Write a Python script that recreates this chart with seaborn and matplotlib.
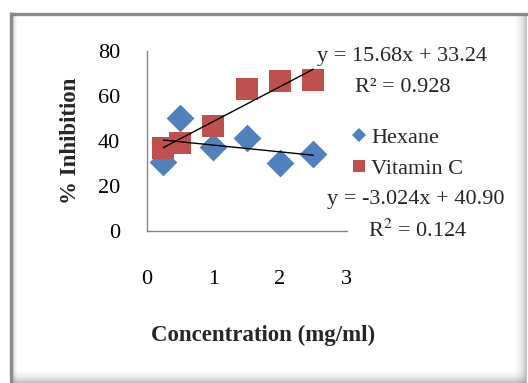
import numpy as np
import pandas as pd
import matplotlib
matplotlib.use("Agg")
import matplotlib.pyplot as plt
import seaborn as sns
from matplotlib.lines import Line2D

# data
conc = [0.25, 0.5, 1.0, 1.5, 2.0, 2.5]
hexane = [30.7, 50.0, 37.0, 41.3, 30.0, 34.0]
vitamin_c = [36.6, 38.8, 46.5, 62.8, 66.7, 67.0]
series_names = ["Hexane", "Vitamin C"]
x_ticks = [0, 1, 2, 3]
y_ticks = [0, 20, 40, 60, 80]
eq_vitc = ["y = 15.68x + 33.24", "R² = 0.928"]
eq_hex = ["y = -3.024x + 40.90", "R$^2$ = 0.124"]

BLUE = "#4F81BD"
RED = "#C0504D"
AXIS_GREY = "#868686"
FRAME_GREY = "#8a8a8a"

df = pd.DataFrame({
    "conc": conc * 2,
    "inhib": hexane + vitamin_c,
    "series": [series_names[0]] * len(conc) + [series_names[1]] * len(conc),
})

sns.set_theme(style="white")
plt.rcParams["font.family"] = ["Liberation Serif", "DejaVu Serif"]
plt.rcParams["mathtext.fontset"] = "stix"

W, H = 528, 383
fig = plt.figure(figsize=(W / 100, H / 100), dpi=100)
fig.patch.set_facecolor("white")

def fx(px):
    return px / W

def fy(py):
    return 1 - py / H

def frame_line(x0, y0, x1, y1, color, lw, alpha=1.0):
    fig.add_artist(Line2D([fx(x0), fx(x1)], [fy(y0), fy(y1)], transform=fig.transFigure,
                          color=color, lw=lw, alpha=alpha, solid_capstyle="butt"))

# outer chart-area frame with soft shadow (Excel style)
frame_line(10.5, 13.5, 528, 13.5, FRAME_GREY, 2.4)
frame_line(10.5, 12, 10.5, 383, FRAME_GREY, 2.4)
for i, a in enumerate([0.30, 0.18, 0.10, 0.05]):
    frame_line(13 + i, 15, 13 + i, 383, "#808080", 0.75, a)
for i, a in enumerate([0.45, 0.30, 0.20, 0.12, 0.07, 0.03]):
    frame_line(526 - 2 * i, 15, 526 - 2 * i, 383, "#808080", 1.5, a)
    frame_line(13, 382 - 2 * i, 526, 382 - 2 * i, "#808080", 1.5, a)

ax = fig.add_axes([fx(146.7), fy(230.7), 200 / W, 180 / H])

sns.scatterplot(data=df[df["series"] == "Hexane"], x="conc", y="inhib",
                color=BLUE, marker="D", s=200, linewidth=0, ax=ax, zorder=2)
sns.scatterplot(data=df[df["series"] == "Vitamin C"], x="conc", y="inhib",
                color=RED, marker="s", s=229, linewidth=0, ax=ax, zorder=2)

for name in series_names:
    sub = df[df["series"] == name]
    sns.regplot(data=sub, x="conc", y="inhib", scatter=False, ci=None, ax=ax,
                color="black", line_kws={"lw": 1.0, "zorder": 3})

ax.set_xlim(0, 3)
ax.set_ylim(0, 80)
ax.set_xticks(x_ticks)
ax.set_yticks(y_ticks)
ax.tick_params(axis="both", length=0, labelsize=16, colors="black")
ax.tick_params(axis="y", pad=19)
ax.tick_params(axis="x", pad=28)
ax.set_xlabel("")
ax.set_ylabel("")
for side in ["top", "right"]:
    ax.spines[side].set_visible(False)
for side in ["left", "bottom"]:
    ax.spines[side].set_color(AXIS_GREY)
    ax.spines[side].set_linewidth(1.0)
ax.patch.set_alpha(0)
ax.grid(False)

fig.text(fx(71), fy(141), "% Inhibition", rotation=90, ha="center", va="center",
         fontsize=16.5, fontweight="bold")
fig.text(fx(263.5), fy(335), "Concentration (mg/ml)", ha="center", va="center",
         fontsize=16.5, fontweight="bold")

fig.text(fx(317), fy(56), eq_vitc[0], ha="left", va="center", fontsize=16)
fig.text(fx(355), fy(87), eq_vitc[1], ha="left", va="center", fontsize=16)
fig.text(fx(327), fy(199), eq_hex[0], ha="left", va="center", fontsize=16)
fig.text(fx(368), fy(231), eq_hex[1], ha="left", va="center", fontsize=16)

handles = [
    Line2D([], [], marker="D", color=BLUE, linestyle="none", markersize=7, markeredgewidth=0),
    Line2D([], [], marker="s", color=RED, linestyle="none", markersize=9, markeredgewidth=0),
]
fig.legend(handles, series_names, loc="center left", bbox_to_anchor=(fx(352), fy(153)),
           frameon=False, fontsize=16, handlelength=0.6, handletextpad=0.25,
           labelspacing=0.45, borderpad=0, borderaxespad=0)

fig.savefig("out.png", dpi=100)
